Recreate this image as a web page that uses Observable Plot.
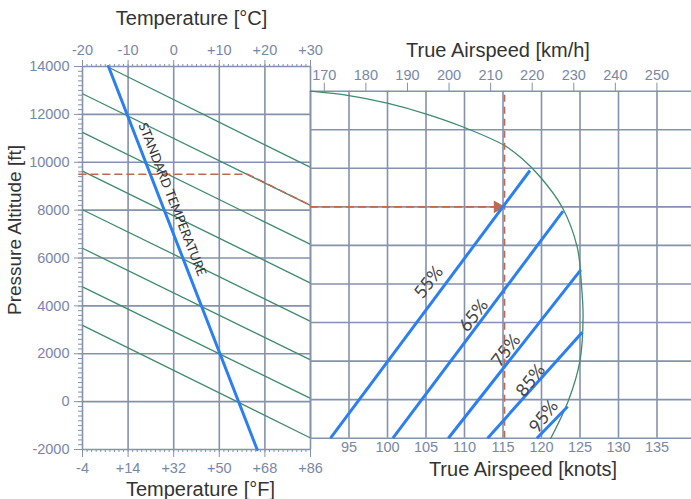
<!DOCTYPE html>
<html><head><meta charset="utf-8">
<script src="https://cdn.jsdelivr.net/npm/d3@7"></script>
<script src="https://cdn.jsdelivr.net/npm/@observablehq/plot@0.6"></script>
<style>
body{margin:0;background:#fff;}
#chart{position:relative;width:691px;height:499px;overflow:hidden;}
#chart svg{position:absolute;left:0;top:0;}
</style></head><body><div id="chart"></div>
<script>
// ---- tick values / labels ----
const celsiusTicks = [-20, -10, 0, 10, 20, 30];
const celsiusLabels = ["-20", "-10", "0", "+10", "+20", "+30"];
const fahrenheitLabels = ["-4", "+14", "+32", "+50", "+68", "+86"];
const celsiusMinor = [-20,-19,-18,-17,-16,-15,-14,-13,-12,-11,-10,-9,-8,-7,-6,-5,-4,-3,-2,-1,0,1,2,3,4,5,6,7,8,9,10,11,12,13,14,15,16,17,18,19,20,21,22,23,24,25,26,27,28,29,30];
const altitudeTicks = [-2000, 0, 2000, 4000, 6000, 8000, 10000, 12000, 14000];
const altitudeMinor = d3.range(-2000, 14001, 200);
const knotGrid = [90, 95, 100, 105, 110, 115, 120, 125, 130, 135];
const knotTicks = [95, 100, 105, 110, 115, 120, 125, 130, 135];
const kmhTicks = [170, 180, 190, 200, 210, 220, 230, 240, 250];
const densityAltGrid = [0, 2000, 4000, 6000, 8000, 10000, 12000, 14000, 16000, 18000];

// ---- series ----
// standard temperature line (°C, pressure altitude ft)
const standardTemp = [{t: -14.3, alt: 14000}, {t: 18.3, alt: -2000}];
// density-altitude isolines in the left panel
const daLines = [
  {da: 14000, t1: -14.3, a1: 13970, t2: 30, a2: 9783},
  {da: 12000, t1: -20, a1: 12860, t2: 30, a2: 8197},
  {da: 10000, t1: -20, a1: 11245, t2: 30, a2: 6568},
  {da: 8000,  t1: -20, a1: 9629,  t2: 30, a2: 4953},
  {da: 6000,  t1: -20, a1: 8017,  t2: 30, a2: 3354},
  {da: 4000,  t1: -20, a1: 6406,  t2: 30, a2: 1746},
  {da: 2000,  t1: -20, a1: 4794,  t2: 30, a2: 139},
  {da: 0,     t1: -20, a1: 3187,  t2: 30, a2: -1519}
];
// example route (dashed)
const routeLeft = [{t: -20.8, alt: 9500}, {t: 16.2, alt: 9500}, {t: 30, alt: 8197}];
const routeRight = [{kt: 90, da: 12000}, {kt: 114.5, da: 12000}];
const routeSpeed = 115.2;
const arrowTip = [{kt: 115.2, da: 12000}];
// max-speed envelope (knots, density altitude)
const envelope = [
  [90, 18000], [94.97, 17776], [99.96, 17376], [104.94, 16826], [109.9, 16131],
  [115.2, 15182], [117.5, 14493], [119.87, 13538], [122.69, 11982], [124.64, 9907],
  [125.2, 7900], [125.4, 6276], [125.0, 4030], [123.5, 1960], [121.2, 0]
];
// power setting lines
const powerLines = [
  {pct: "55%", kt1: 92.6,  da1: 0, kt2: 118.5, da2: 13886, lx: 105.36, ly: 8092},
  {pct: "65%", kt1: 100.7, da1: 0, kt2: 122.8, da2: 11775, lx: 111.2,  ly: 6365},
  {pct: "75%", kt1: 107.9, da1: 0, kt2: 125.1, da2: 8735,  lx: 115.4,  ly: 4549},
  {pct: "85%", kt1: 113.0, da1: 0, kt2: 125.3, da2: 5498,  lx: 118.6,  ly: 2993},
  {pct: "95%", kt1: 119.4, da1: 0, kt2: 123.4, da2: 1644,  lx: 120.3,  ly: 1126}
];
const stdLabel = [{t: -0.33, alt: 8447, text: "STANDARD TEMPERATURE"}];

// ---- styles ----
const gridColor = "#8492ad";
const tickColor = "#7987a6";
const titleColor = "#333333";
const green = "#3e8c6c";
const blue = "#2b7ff0";
const red = "#bd6a52";
const font = "'Liberation Sans', Arial, sans-serif";
const svgStyle = {fontFamily: font, fontSize: "14.5px", background: "transparent", overflow: "visible"};

const kmhPos = kmhTicks.map(k => k / 1.852);

const left = Plot.plot({
  width: 691, height: 499,
  marginLeft: 82, marginRight: 381, marginTop: 66, marginBottom: 50,
  x: {domain: [-20, 30]}, y: {domain: [-2000, 14000]},
  style: svgStyle,
  marks: [
    Plot.ruleX(celsiusTicks, {y1: -2000, y2: 14000, stroke: gridColor, strokeWidth: 1.6}),
    Plot.ruleY(altitudeTicks, {x1: -20, x2: 30, stroke: gridColor, strokeWidth: 1.6}),
    Plot.link(daLines, {x1: "t1", y1: "a1", x2: "t2", y2: "a2", stroke: green, strokeWidth: 1.3}),
    Plot.line(routeLeft, {x: "t", y: "alt", stroke: red, strokeWidth: 1.6, strokeDasharray: "7,5"}),
    Plot.line(standardTemp, {x: "t", y: "alt", stroke: blue, strokeWidth: 3}),
    Plot.text(stdLabel, {x: "t", y: "alt", text: "text", rotate: 68.5, fontSize: 13, fontFamily: "Lato", fill: "#333"}),
    // left axis
    Plot.axisY(altitudeTicks, {anchor: "left", tickSize: 8, tickPadding: 5, tickFormat: d => String(d), stroke: gridColor, fill: tickColor, label: null, fontSize: 14.5}),
    Plot.axisY(altitudeMinor, {anchor: "left", tickSize: 4, fill: "none", stroke: gridColor, label: null}),
    // top axis (°C)
    Plot.axisX(celsiusTicks, {anchor: "top", tickSize: 7, tickPadding: 5, tickFormat: d => celsiusLabels[celsiusTicks.indexOf(d)], stroke: gridColor, fill: tickColor, label: null, fontSize: 14.5}),
    Plot.axisX(celsiusMinor, {anchor: "top", tickSize: 3, fill: "none", stroke: gridColor, label: null}),
    // bottom axis (°F)
    Plot.axisX(celsiusTicks, {anchor: "bottom", tickSize: 8, tickPadding: 5, tickFormat: d => fahrenheitLabels[celsiusTicks.indexOf(d)], stroke: gridColor, fill: tickColor, label: null, fontSize: 14.5}),
    Plot.axisX(celsiusMinor, {anchor: "bottom", tickSize: 3, fill: "none", stroke: gridColor, label: null}),
    // titles
    Plot.text(["Temperature [°C]"], {frameAnchor: "top", lineAnchor: "middle", textAnchor: "middle", dy: -48, dx: -5, fontSize: 20, fill: titleColor}),
    Plot.text(["Temperature [°F]"], {frameAnchor: "bottom", lineAnchor: "middle", textAnchor: "middle", dy: 40, dx: 4, fontSize: 20, fill: titleColor}),
    Plot.text(["Pressure Altitude [ft]"], {frameAnchor: "left", lineAnchor: "middle", textAnchor: "middle", dx: -68, dy: -28, rotate: -90, fontSize: 19, fill: titleColor})
  ]
});

const right = Plot.plot({
  width: 691, height: 499,
  marginLeft: 310, marginRight: 0, marginTop: 90.7, marginBottom: 61.3,
  x: {domain: [90, 139.48]}, y: {domain: [0, 18000], axis: null},
  style: svgStyle,
  marks: [
    Plot.ruleX(knotGrid, {y1: 0, y2: 18000, stroke: gridColor, strokeWidth: 1.6}),
    Plot.ruleY(densityAltGrid, {x1: 90, x2: 139.48, stroke: gridColor, strokeWidth: 1.6}),
    Plot.line(envelope, {x: d => d[0], y: d => d[1], curve: "catmull-rom", stroke: green, strokeWidth: 1.3}),
    Plot.line(routeRight, {x: "kt", y: "da", stroke: red, strokeWidth: 1.6, strokeDasharray: "7,5"}),
    Plot.ruleX([routeSpeed], {y1: 0, y2: 18000, stroke: red, strokeWidth: 1.6, strokeDasharray: "7,5"}),
    Plot.dot(arrowTip, {x: "kt", y: "da", symbol: "triangle", rotate: 90, r: 4.8, fill: red, stroke: "none", dx: -7}),
    Plot.link(powerLines, {x1: "kt1", y1: "da1", x2: "kt2", y2: "da2", stroke: blue, strokeWidth: 3}),
    Plot.text(powerLines, {x: "lx", y: "ly", text: "pct", rotate: -52.6, fontSize: 18, fontFamily: "Lato", fill: "#444"}),
    // top axis km/h
    Plot.axisX(kmhPos, {anchor: "top", tickSize: 9, tickPadding: 2, tickFormat: d => String(kmhTicks[kmhPos.indexOf(d)]), stroke: gridColor, fill: tickColor, label: null, fontSize: 14.5}),
    // bottom axis knots
    Plot.axisX(knotTicks, {anchor: "bottom", tickSize: 0, tickPadding: 4, tickFormat: d => String(d), stroke: gridColor, fill: tickColor, label: null, fontSize: 14.5}),
    Plot.text(["True Airspeed [km/h]"], {frameAnchor: "top", lineAnchor: "middle", textAnchor: "middle", dy: -41, dx: -3, fontSize: 20, fill: titleColor}),
    Plot.text(["True Airspeed [knots]"], {frameAnchor: "bottom", lineAnchor: "middle", textAnchor: "middle", dy: 31, dx: 22, fontSize: 20, fill: titleColor})
  ]
});

const chart = document.getElementById("chart");
chart.appendChild(left);
chart.appendChild(right);
</script>
</body></html>
